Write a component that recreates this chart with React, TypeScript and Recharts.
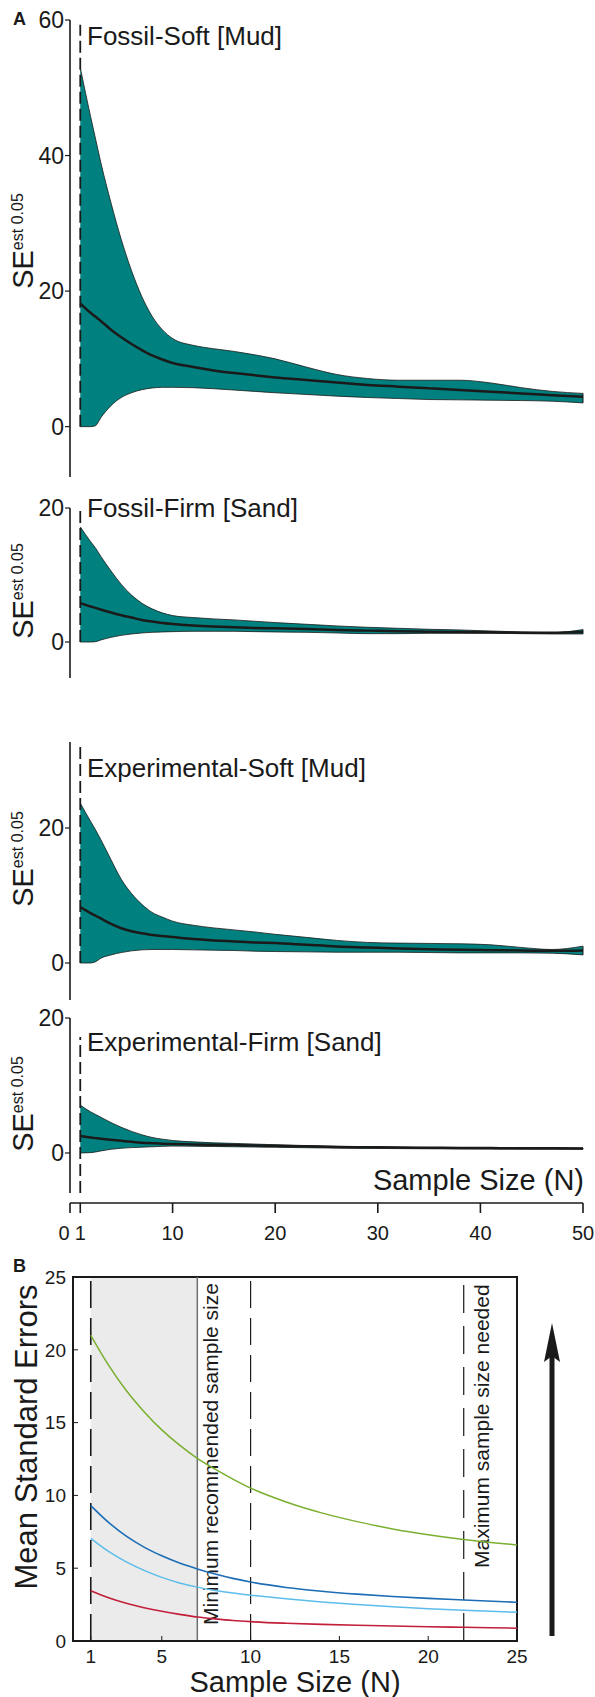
import React from 'react';
import { ComposedChart, LineChart, Area, Line, XAxis, YAxis, ReferenceLine, ReferenceArea } from 'recharts';

const FONT = '"Liberation Sans", Arial, Helvetica, sans-serif';
const INK = '#1a1a1a';
const TEAL = '#00807e';

// ---- panel A: sample sizes along x (shared by the four band charts)
const sizesA = [1, 2, 2.5, 3, 4, 5, 6, 7, 8, 9, 10, 12, 14, 16, 18, 20, 23, 26, 29, 32, 35, 38, 41, 44, 47, 50];

const fossilSoftHi = [53, 45.8, 42.4, 39.0, 33.0, 27.6, 23.0, 19.2, 16.3, 14.3, 13.0, 12.0, 11.5, 11.1, 10.6, 10.0, 8.8, 7.7, 7.1, 6.85, 6.85, 6.85, 6.45, 5.75, 5.2, 4.9];
const fossilSoftMean = [18.2, 16.8, 16.2, 15.6, 14.3, 13.2, 12.2, 11.3, 10.5, 9.9, 9.4, 8.8, 8.3, 7.9, 7.6, 7.25, 6.9, 6.5, 6.15, 5.9, 5.65, 5.4, 5.15, 4.9, 4.65, 4.4];
const fossilSoftLo = [0, 0, 0.15, 1.3, 3.1, 4.3, 5.0, 5.45, 5.7, 5.8, 5.8, 5.75, 5.6, 5.4, 5.2, 5.0, 4.75, 4.5, 4.3, 4.15, 4.0, 3.95, 3.9, 3.85, 3.75, 3.5];

const fossilFirmHi = [17.2, 15.0, 14.0, 12.8, 10.6, 8.6, 7.0, 5.8, 4.95, 4.35, 3.95, 3.65, 3.45, 3.3, 3.1, 2.9, 2.65, 2.4, 2.2, 2.05, 1.9, 1.8, 1.65, 1.5, 1.4, 1.85];
const fossilFirmMean = [5.8, 5.3, 5.1, 4.85, 4.4, 4.0, 3.65, 3.3, 3.05, 2.85, 2.7, 2.45, 2.3, 2.2, 2.1, 2.05, 1.95, 1.8, 1.7, 1.6, 1.55, 1.5, 1.45, 1.4, 1.38, 1.5];
const fossilFirmLo = [0, 0, 0.05, 0.3, 0.7, 1.0, 1.2, 1.35, 1.45, 1.5, 1.55, 1.6, 1.6, 1.6, 1.55, 1.5, 1.45, 1.35, 1.25, 1.25, 1.3, 1.3, 1.3, 1.25, 1.2, 1.2];

const expSoftHi = [23.7, 21.0, 19.7, 18.3, 15.3, 12.4, 10.3, 8.7, 7.5, 6.8, 6.2, 5.6, 5.2, 4.9, 4.6, 4.25, 3.8, 3.35, 3.05, 2.95, 2.9, 2.85, 2.7, 2.3, 2.0, 2.5];
const expSoftMean = [8.3, 7.4, 7.0, 6.6, 5.8, 5.15, 4.7, 4.4, 4.15, 4.0, 3.85, 3.55, 3.35, 3.2, 3.05, 2.95, 2.7, 2.45, 2.3, 2.15, 2.05, 1.95, 1.9, 1.85, 1.8, 1.85];
const expSoftLo = [0, 0, 0.2, 0.7, 1.2, 1.55, 1.8, 1.95, 2.0, 2.0, 2.0, 1.95, 1.9, 1.85, 1.75, 1.7, 1.65, 1.6, 1.6, 1.6, 1.55, 1.5, 1.5, 1.5, 1.45, 1.2];

const expFirmHi = [7.1, 6.1, 5.7, 5.3, 4.5, 3.8, 3.2, 2.7, 2.3, 2.05, 1.85, 1.65, 1.5, 1.42, 1.32, 1.22, 1.1, 0.98, 0.9, 0.85, 0.82, 0.8, 0.78, 0.76, 0.75, 0.74];
const expFirmMean = [2.5, 2.3, 2.2, 2.1, 1.95, 1.8, 1.65, 1.52, 1.45, 1.38, 1.33, 1.27, 1.22, 1.17, 1.12, 1.06, 0.98, 0.9, 0.85, 0.8, 0.77, 0.74, 0.72, 0.7, 0.7, 0.68];
const expFirmLo = [0, 0.05, 0.15, 0.3, 0.55, 0.7, 0.8, 0.86, 0.92, 0.98, 1.02, 1.0, 0.96, 0.92, 0.88, 0.84, 0.78, 0.72, 0.68, 0.65, 0.62, 0.6, 0.58, 0.57, 0.56, 0.55];

const axisTicksA = [0, 1, 10, 20, 30, 40, 50];

// ---- panel B: mean standard errors
const sizesB = [1, 2, 3, 4, 5, 6, 7, 8, 9, 10, 12, 14, 16, 18, 20, 22, 25];
const greenSE = [21, 18.95, 17.2, 15.75, 14.5, 13.45, 12.55, 11.8, 11.12, 10.5, 9.55, 8.8, 8.2, 7.7, 7.3, 6.97, 6.6];
const darkBlueSE = [9.3, 8.15, 7.2, 6.45, 5.85, 5.35, 4.95, 4.6, 4.3, 4.05, 3.68, 3.42, 3.22, 3.06, 2.93, 2.82, 2.66];
const lightBlueSE = [7.05, 6.15, 5.43, 4.85, 4.37, 3.99, 3.7, 3.47, 3.29, 3.15, 2.9, 2.68, 2.5, 2.35, 2.22, 2.11, 1.97];
const redSE = [3.45, 2.97, 2.59, 2.29, 2.04, 1.83, 1.65, 1.52, 1.41, 1.33, 1.22, 1.14, 1.08, 1.03, 0.98, 0.94, 0.88];
const ticksB = [0, 5, 10, 15, 20, 25];
const xTicksB = [1, 5, 10, 15, 20, 25];

// layout of the four stacked band charts (plot top / height in px, y domain)
const bandPanels = [
  { title: 'Fossil-Soft [Mud]', hi: fossilSoftHi, mean: fossilSoftMean, lo: fossilSoftLo, top: 20, h: 457, domain: [-7.43, 60], ticks: [0, 20, 40, 60], dash: [0, 59.3], titleY: 45, labelY: 241 },
  { title: 'Fossil-Firm [Sand]', hi: fossilFirmHi, mean: fossilFirmMean, lo: fossilFirmLo, top: 508, h: 170, domain: [-5.37, 20], ticks: [0, 20], dash: [0, 20], titleY: 517, labelY: 591 },
  { title: 'Experimental-Soft [Mud]', hi: expSoftHi, mean: expSoftMean, lo: expSoftLo, top: 742, h: 258, domain: [-5.48, 32.74], ticks: [0, 20], dash: [0, 32.7], titleY: 777, labelY: 859 },
  { title: 'Experimental-Firm [Sand]', hi: expFirmHi, mean: expFirmMean, lo: expFirmLo, top: 1018, h: 175, domain: [-5.93, 20], ticks: [0, 20], dash: [-5.93, 17.2], titleY: 1051, labelY: 1104 },
];

const PAD = 14;

function BandChart({ p }: { p: typeof bandPanels[number] }) {
  const rows = sizesA.map((n, i) => ({ n, band: [p.lo[i], p.hi[i]], mean: p.mean[i] }));
  const last = sizesA.length - 1;
  return (
    <div style={{ position: 'absolute', left: 0, top: p.top - PAD }}>
      <ComposedChart width={595} height={p.h + 2 * PAD} data={rows} margin={{ top: PAD, right: 12, bottom: PAD, left: 20 }}>
        <XAxis type="number" dataKey="n" domain={[0, 50]} hide />
        <YAxis
          type="number" domain={p.domain} ticks={p.ticks} interval={0} width={50}
          axisLine={{ stroke: INK, strokeWidth: 1.6 }} tickLine={{ stroke: INK, strokeWidth: 1.2 }}
          tickSize={5} tickMargin={1} tick={{ fontSize: 23, fill: INK }}
        />
        <Area type="monotone" dataKey="band" fill={TEAL} fillOpacity={1} stroke={INK} strokeWidth={0.8} isAnimationActive={false} />
        <Line type="monotone" dataKey="mean" stroke={INK} strokeWidth={2.5} dot={false} isAnimationActive={false} />
        <ReferenceLine segment={[{ x: 50, y: p.lo[last] }, { x: 50, y: p.hi[last] }]} stroke={INK} strokeWidth={1} />
        <ReferenceLine segment={[{ x: 1, y: p.dash[0] }, { x: 1, y: p.dash[1] }]} stroke={INK} strokeWidth={1.8} strokeDasharray="12 5" />
      </ComposedChart>
    </div>
  );
}

const AxisTick = (props: any) => {
  const { x, y, payload } = props;
  const shift = payload.value === 0 ? -6 : 0;
  return (
    <text x={x + shift} y={y} dy="0.71em" textAnchor="middle" fontSize={20} fill={INK}>{payload.value}</text>
  );
};

const minLabel = (props: any) => {
  const { x, y, height } = props.viewBox;
  return (
    <text transform={`translate(${x + 21}, ${y + height - 16}) rotate(-90)`} fontSize={21} fill={INK}>
      Minimum recommended sample size
    </text>
  );
};

const maxLabel = (props: any) => {
  const { x, y, height } = props.viewBox;
  return (
    <text transform={`translate(${x + 25}, ${y + height - 73}) rotate(-90)`} fontSize={21} fill={INK}>
      Maximum sample size needed
    </text>
  );
};

function SELabel({ cy }: { cy: number }) {
  return (
    <text transform={`translate(33, ${cy}) rotate(-90)`} textAnchor="middle" fill={INK}>
      <tspan fontSize={29}>SE</tspan>
      <tspan fontSize={16} dy={-10}>est 0.05</tspan>
    </text>
  );
}

export default function App() {
  const axisRows = [{ n: 0 }, { n: 50 }];
  const rowsB = sizesB.map((n, i) => ({ n, green: greenSE[i], dark: darkBlueSE[i], light: lightBlueSE[i], red: redSE[i] }));

  return (
    <div style={{ position: 'absolute', left: 0, top: 0, width: 595, height: 1697, background: '#fff', fontFamily: FONT }}>
      {bandPanels.map((p) => <BandChart key={p.title} p={p} />)}

      {/* shared x axis of panel A */}
      <div style={{ position: 'absolute', left: 0, top: 1193 }}>
        <ComposedChart width={595} height={50} data={axisRows} margin={{ top: 0, right: 12, bottom: 0, left: 70 }}>
          <XAxis
            type="number" dataKey="n" domain={[0, 50]} ticks={axisTicksA} interval={0} height={40}
            axisLine={{ stroke: INK, strokeWidth: 1.6 }} tickLine={{ stroke: INK, strokeWidth: 1.6 }}
            tickSize={10} tickMargin={13} tick={<AxisTick />}
          />
          <YAxis type="number" domain={[0, 1]} hide />
          <ReferenceLine x={1} stroke={INK} strokeWidth={1.8} strokeDasharray="12 5" />
        </ComposedChart>
      </div>

      {/* panel B */}
      <div style={{ position: 'absolute', left: 0, top: 1257 }}>
        <LineChart width={595} height={420} data={rowsB} margin={{ top: 20, right: 78, bottom: 6, left: 33 }}>
          <ReferenceArea x1={1} x2={7} y1={0} y2={25} fill="#ebebeb" fillOpacity={1} stroke="none" />
          <XAxis
            type="number" dataKey="n" domain={[0, 25]} ticks={xTicksB} interval={0} height={30}
            axisLine={{ stroke: INK, strokeWidth: 2 }} tickLine={{ stroke: INK, strokeWidth: 1 }}
            tickSize={-5} tickMargin={14} tick={{ fontSize: 19, fill: INK }}
          />
          <YAxis
            type="number" domain={[0, 25]} ticks={ticksB} interval={0} width={40}
            axisLine={{ stroke: INK, strokeWidth: 2 }} tickLine={{ stroke: INK, strokeWidth: 1 }}
            tickSize={-5} tickMargin={12} tick={{ fontSize: 19, fill: INK }}
          />
          <ReferenceLine x={7} stroke="#6e6e6e" strokeWidth={1.5} label={minLabel} />
          <ReferenceLine x={1} stroke={INK} strokeWidth={1.6} strokeDasharray="27 10" />
          <ReferenceLine x={10} stroke={INK} strokeWidth={1.2} strokeDasharray="27 10" />
          <ReferenceLine x={22} stroke={INK} strokeWidth={1.2} strokeDasharray="28 13" label={maxLabel} />
          <Line type="monotone" dataKey="green" stroke="#7aaf2f" strokeWidth={1.5} dot={false} isAnimationActive={false} />
          <Line type="monotone" dataKey="dark" stroke="#1c6db5" strokeWidth={1.6} dot={false} isAnimationActive={false} />
          <Line type="monotone" dataKey="light" stroke="#5cbdea" strokeWidth={1.5} dot={false} isAnimationActive={false} />
          <Line type="monotone" dataKey="red" stroke="#c21f3a" strokeWidth={1.6} dot={false} isAnimationActive={false} />
          <ReferenceArea x1={0} x2={25} y1={0} y2={25} fill="none" stroke={INK} strokeWidth={2} />
        </LineChart>
      </div>

      {/* free text and the arrow */}
      <svg width={595} height={1697} style={{ position: 'absolute', left: 0, top: 0, pointerEvents: 'none' }}>
        <text x={13} y={25} fontSize={18} fontWeight="bold" fill={INK}>A</text>
        <text x={13} y={1272} fontSize={18} fontWeight="bold" fill={INK}>B</text>
        {bandPanels.map((p) => (
          <g key={p.title}>
            <text x={87} y={p.titleY} fontSize={26} fill={INK}>{p.title}</text>
            <SELabel cy={p.labelY} />
          </g>
        ))}
        <text x={584} y={1190} fontSize={29} textAnchor="end" fill={INK}>Sample Size (N)</text>
        <text x={295} y={1692} fontSize={29} textAnchor="middle" fill={INK}>Sample Size (N)</text>
        <text transform="translate(37, 1437) rotate(-90)" fontSize={31} textAnchor="middle" fill={INK}>Mean Standard Errors</text>
        <rect x={549.5} y={1352} width={5} height={284} fill={INK} />
        <path d="M552,1323 L560,1362 L552,1356 L544,1362 Z" fill={INK} />
      </svg>
    </div>
  );
}
